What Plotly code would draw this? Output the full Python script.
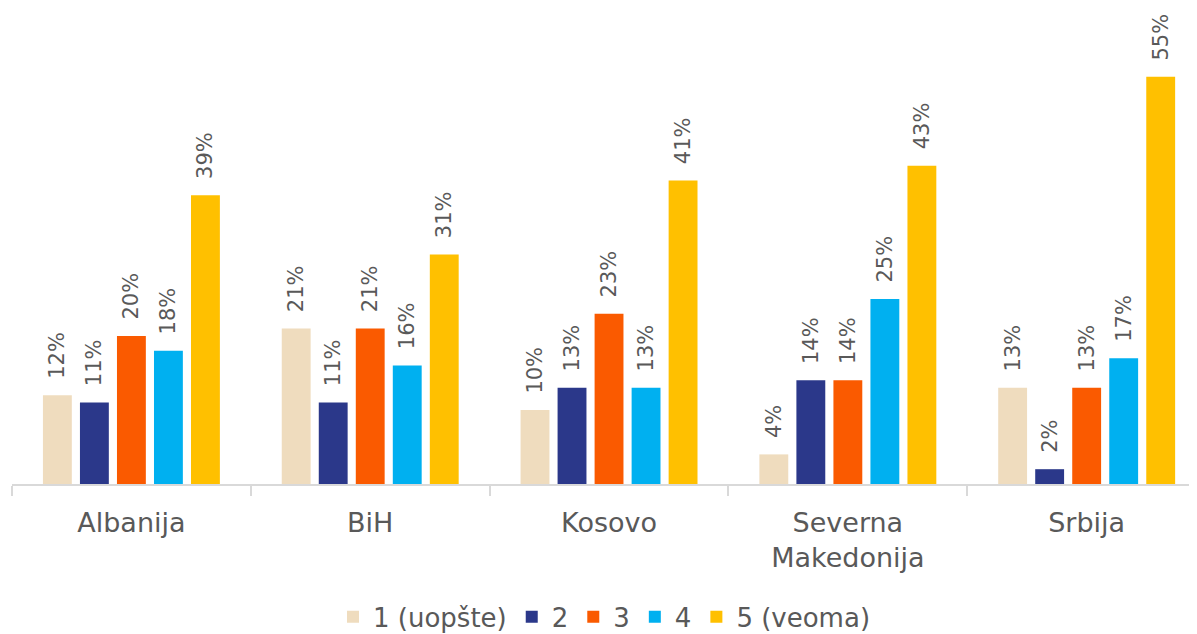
import plotly.graph_objects as go

categories = ["Albanija", "BiH", "Kosovo", "Severna<br>Makedonija", "Srbija"]
series_names = ["1 (uopšte)", "2", "3", "4", "5 (veoma)"]
s1 = [12, 21, 10, 4, 13]
s2 = [11, 11, 13, 14, 2]
s3 = [20, 21, 23, 14, 13]
s4 = [18, 16, 13, 25, 17]
s5 = [39, 31, 41, 43, 55]
colors = ["#EFDCBE", "#2B388A", "#FA5A00", "#00B0F0", "#FFC000"]

FONT = "DejaVu Sans"
GRAY = "#595959"

fig = go.Figure()
for name, vals, col in zip(series_names, [s1, s2, s3, s4, s5], colors):
    fig.add_trace(go.Bar(
        name=name, x=categories, y=vals, marker_color=col,
        marker_line_width=0,
        text=["  " + f"{v}%" for v in vals],
        textposition="outside", textangle=-90,
        constraintext="none", cliponaxis=False,
        textfont=dict(family=FONT, size=21, color=GRAY),
    ))

fig.update_layout(
    width=1189, height=626,
    margin=dict(l=4, r=0, t=0, b=150, autoexpand=False),
    paper_bgcolor="white", plot_bgcolor="white",
    barmode="group", bargap=0.225, bargroupgap=0.22,
    showlegend=True,
    legend=dict(orientation="h", x=0.5, xanchor="center", y=-0.279, yanchor="middle",
                font=dict(family=FONT, size=26, color=GRAY), itemclick=False,
                traceorder="normal", itemwidth=30),
)
fig.update_xaxes(
    range=[-0.5, 4.462], showline=True, linecolor="#D9D9D9", linewidth=1.5,
    ticks="outside", tickson="boundaries", ticklen=10, tickcolor="#D9D9D9",
    tickwidth=1.5, automargin=False, ticklabelstandoff=14,
    tickfont=dict(family=FONT, size=27, color=GRAY), showgrid=False,
)
fig.update_yaxes(range=[0, 64.3], visible=False, showgrid=False, automargin=False)

fig.write_html("out.html")
